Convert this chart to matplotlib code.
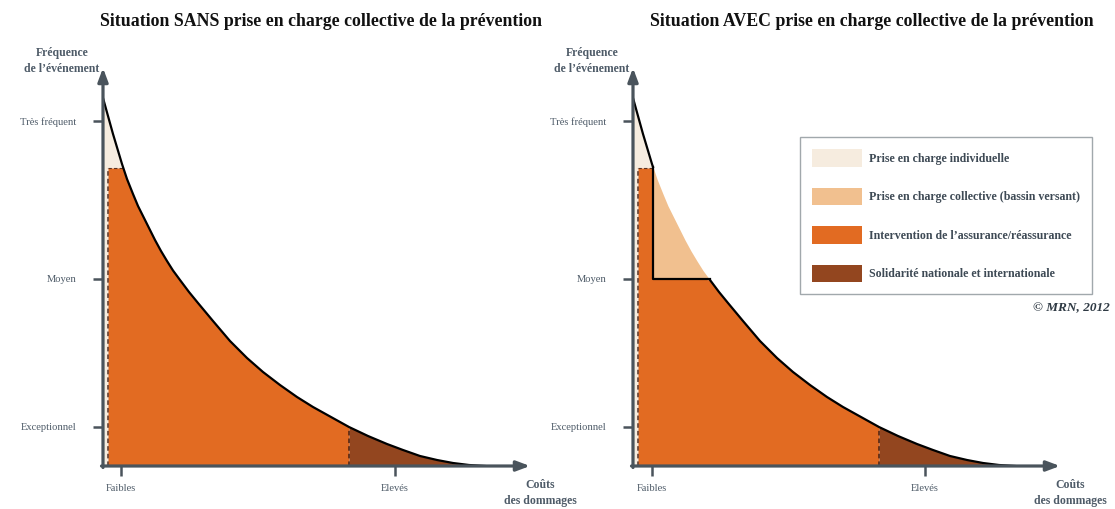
import numpy as np
import matplotlib
matplotlib.use("Agg")
import matplotlib.pyplot as plt
from matplotlib.patches import Patch

# curve: cost (px from y-axis) vs frequency (px above x-axis)
cost = np.array([0, 5, 10, 19, 24, 30, 35, 40, 46, 52, 58, 64, 70, 77, 86, 95, 110,
                 127, 144, 160, 177, 194, 210, 228, 246, 265, 284, 300, 317, 334,
                 350, 366, 382])
freq = np.array([368, 350, 332, 302, 287, 272, 260, 250, 238, 226, 215, 205, 195.5,
                 186, 174, 163, 145, 125, 108, 94, 81, 69, 59, 49, 39, 30, 22, 16,
                 10, 6, 3, 1, 0])

# thresholds
x_indiv = 5        # dashed line, end of individual share
y_indiv = 298      # top of insurance block
x_step = 20        # step of collective prevention
y_moyen = 187      # level of the collective share
x_coll = 77        # collective share ends where the curve meets "Moyen"
x_solid = 246      # start of national solidarity

ytick_pos = [345, 187, 39]
ytick_lab = ["Très fréquent", "Moyen", "Exceptionnel"]
xtick_pos = [18, 292]
xtick_lab = ["Faibles", "Elevés"]

titles = ["Situation SANS prise en charge collective de la prévention",
          "Situation AVEC prise en charge collective de la prévention"]
legend_labels = ["Prise en charge individuelle",
                 "Prise en charge collective (bassin versant)",
                 "Intervention de l\u2019assurance/réassurance",
                 "Solidarité nationale et internationale"]

c_beige = "#f6ecdf"
c_light = "#f1c08f"
c_orange = "#e26b22"
c_brown = "#93461f"
c_axis = "#4a545c"
c_text = "#4e5b68"

plt.rcParams['font.family'] = ['Liberation Serif', 'DejaVu Serif']

fig = plt.figure(figsize=(11.15, 5.09), dpi=100)

def curve_at(x):
    return np.interp(x, cost, freq)

def draw_panel(ax, avec):
    ax.set_xlim(0, 440)
    ax.set_ylim(0, 420)
    for s in ax.spines.values():
        s.set_visible(False)

    # individual share (beige) under the curve near the axis
    m = cost <= x_step
    xs = np.concatenate([cost[m], [x_step]])
    ax.fill_between(xs, 0, curve_at(xs), color=c_beige, lw=0)

    # insurance (orange)
    xs = np.concatenate([[x_indiv, x_step], cost[(cost > x_step) & (cost <= x_solid)]])
    ys = np.minimum(curve_at(xs), y_indiv)
    if avec:
        ys = np.where(xs > x_step, np.minimum(curve_at(xs), y_moyen), ys)
        xs = np.concatenate([[x_indiv, x_step, x_step], xs[2:]])
        ys = np.concatenate([[y_indiv, y_indiv, y_moyen], ys[2:]])
        # collective share (light orange)
        xl = np.concatenate([[x_step], cost[(cost > x_step) & (cost < x_coll)], [x_coll]])
        ax.fill_between(xl, y_moyen, curve_at(xl), color=c_light, lw=0)
    ax.fill_between(xs, 0, ys, color=c_orange, lw=0)

    # national solidarity (brown)
    xb = cost[cost >= x_solid]
    ax.fill_between(xb, 0, freq[cost >= x_solid], color=c_brown, lw=0)

    # dashed separators
    ax.plot([x_indiv, x_indiv], [0, y_indiv], ls=(0, (3, 2)), color="#5a3020", lw=1.1)
    ax.plot([x_indiv, x_step], [y_indiv, y_indiv], color="#5a3020", lw=0.8, ls=(0, (3, 2)))
    ax.plot([x_solid, x_solid], [0, curve_at(x_solid)], ls=(0, (3, 2)), color="#4a2010", lw=1.1)

    # black outline
    if avec:
        m1 = cost <= x_step
        ax.plot(np.concatenate([cost[m1], [x_step]]),
                np.concatenate([freq[m1], [curve_at(x_step)]]), color="black", lw=1.6)
        ax.plot([x_step, x_step, x_coll], [curve_at(x_step), y_moyen, y_moyen],
                color="black", lw=1.6)
        m2 = cost >= x_coll
        ax.plot(cost[m2], freq[m2], color="black", lw=1.6)
    else:
        ax.plot(cost, freq, color="black", lw=1.6)

    # axes with arrows
    ax.annotate("", xy=(427, 0), xytext=(-1.5, 0), annotation_clip=False,
                arrowprops=dict(arrowstyle="-|>,head_length=0.8,head_width=0.3",
                                color=c_axis, lw=2.3, shrinkA=0, shrinkB=0))
    ax.annotate("", xy=(0, 398), xytext=(0, -1.5), annotation_clip=False,
                arrowprops=dict(arrowstyle="-|>,head_length=0.8,head_width=0.3",
                                color=c_axis, lw=2.3, shrinkA=0, shrinkB=0))

    ax.set_yticks(ytick_pos)
    ax.set_yticklabels(ytick_lab)
    ax.set_xticks(xtick_pos if not avec else [19, 292])
    ax.set_xticklabels(xtick_lab)
    ax.tick_params(axis="y", length=7, width=1.8, color=c_axis, pad=12,
                   labelsize=7.6, labelcolor=c_text)
    ax.tick_params(axis="x", length=7, width=1.8, color=c_axis, pad=6,
                   labelsize=7.6, labelcolor=c_text)

    ax.text(-41, 405, "Fréquence\nde l\u2019événement", ha="center", va="center",
            fontsize=8.5, fontweight="bold", color=c_text, linespacing=1.45,
            clip_on=False)
    ax.text(437, -27, "Coûts\ndes dommages", ha="center", va="center",
            fontsize=8.5, fontweight="bold", color=c_text, linespacing=1.35,
            clip_on=False)

ax1 = fig.add_axes([103 / 1115, 43 / 509, 440 / 1115, 420 / 509])
ax2 = fig.add_axes([633 / 1115, 43 / 509, 440 / 1115, 420 / 509])
draw_panel(ax1, False)
draw_panel(ax2, True)

fig.text(321 / 1115, 1 - 22 / 509, titles[0], ha="center", va="center",
         fontsize=12.8, fontweight="bold", color="#111111")
fig.text(872 / 1115, 1 - 22 / 509, titles[1], ha="center", va="center",
         fontsize=12.8, fontweight="bold", color="#111111")

handles = [Patch(facecolor=c, edgecolor="none") for c in [c_beige, c_light, c_orange, c_brown]]
leg = fig.legend(handles, legend_labels, loc="upper left",
                 bbox_to_anchor=(800 / 1115, 1 - 137 / 509),
                 fontsize=8.6, handlelength=4.2, handleheight=1.9,
                 labelspacing=1.75, borderpad=1.0, handletextpad=0.6,
                 borderaxespad=0, fancybox=False, frameon=True)
leg.get_frame().set_edgecolor("#8a9297")
leg.get_frame().set_linewidth(1.0)
for t in leg.get_texts():
    t.set_fontweight("bold")
    t.set_color("#3e4a55")

fig.text(1110 / 1115, 1 - 308 / 509, "© MRN, 2012", ha="right", va="center",
         fontsize=9.5, fontstyle="italic", fontweight="bold", color="#2f3a44")

fig.savefig("out.png", dpi=100)
